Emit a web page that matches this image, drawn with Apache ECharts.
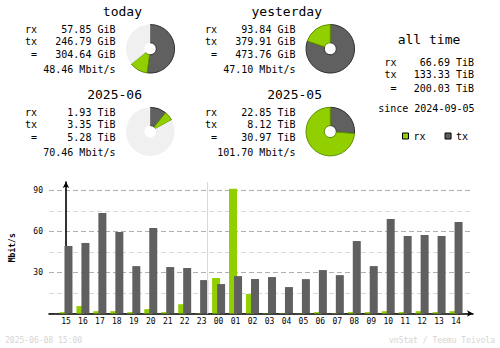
<!DOCTYPE html>
<html>
<head>
<meta charset="utf-8">
<script src="https://cdn.jsdelivr.net/npm/echarts@6/dist/echarts.min.js"></script>
<style>
html,body{margin:0;padding:0;background:#fff;}
#chart{width:500px;height:348px;}
</style>
</head>
<body>
<div id="chart"></div>
<script>
// ---- data ----
var hours = ['15','16','17','18','19','20','21','22','23','00','01','02','03','04','05','06','07','08','09','10','11','12','13','14'];
var rxRate = [1, 5.4, 1.7, 1.7, 1, 3.2, 1, 6.8, 0.2, 25.9, 91, 14.2, 0.2, 0.2, 0.2, 1, 0.2, 1, 1, 1.7, 1, 1.7, 1, 1.7];
var txRate = [49.3, 51.5, 73.4, 59.5, 34.6, 62.4, 33.9, 33.2, 24.4, 21.5, 27.3, 25.1, 26.6, 19.3, 25.1, 31.7, 28.0, 52.9, 34.6, 69.0, 56.6, 57.3, 56.6, 66.8];
var yTicks = [30, 60, 90];

var periods = ['today', 'yesterday', '2025-06', '2025-05'];
var periodRx = [57.85, 93.84, 1.93, 22.85];
var periodTx = [246.79, 379.91, 3.35, 8.12];
var periodTotal = [304.64, 473.76, 5.28, 30.97];
var periodUnit = ['GiB', 'GiB', 'TiB', 'TiB'];
var periodRate = ['48.46', '47.10', '70.46', '101.70'];
var pieScale = [473.76, 473.76, 30.97, 30.97];

var allRx = '66.69 TiB';
var allTx = '133.33 TiB';
var allTotal = '200.03 TiB';
var sinceDate = '2024-09-05';
var stampText = '2025-06-08 15:00';
var creditText = 'vnStat / Teemu Toivola';

// ---- styles ----
var RX = '#92cf00', TX = '#606060';
var MONO = '"DejaVu Sans Mono", monospace';

function txt(s, x, y, size, align, color, weight) {
  return {
    type: 'text', silent: true,
    style: {
      text: s, x: x, y: y,
      font: (weight || 'normal') + ' ' + size + 'px ' + MONO,
      fill: color || '#000',
      align: align, verticalAlign: 'middle',
      textAlign: align, textVerticalAlign: 'middle'
    }
  };
}

var graphics = [];
var blockPos = [[0, 0], [180, 0], [0, 82.8], [180, 82.8]];
var pieSeries = [];
for (var i = 0; i < 4; i++) {
  var dx = blockPos[i][0], dy = blockPos[i][1];
  graphics.push(txt(periods[i], 142 + dx, 11.5 + dy, 13, 'right'));
  graphics.push(txt('rx', 37 + dx, 29.3 + dy, 10, 'right'));
  graphics.push(txt('tx', 37 + dx, 41.4 + dy, 10, 'right'));
  graphics.push(txt('=', 37 + dx, 54.9 + dy, 10, 'right'));
  graphics.push(txt(periodRx[i].toFixed(2) + ' ' + periodUnit[i], 115.5 + dx, 29.3 + dy, 10, 'right'));
  graphics.push(txt(periodTx[i].toFixed(2) + ' ' + periodUnit[i], 115.5 + dx, 41.4 + dy, 10, 'right'));
  graphics.push(txt(periodTotal[i].toFixed(2) + ' ' + periodUnit[i], 115.5 + dx, 54.9 + dy, 10, 'right'));
  graphics.push(txt(periodRate[i] + ' Mbit/s', 115.5 + dx, 69.2 + dy, 10, 'right'));

  var rest = pieScale[i] - periodTotal[i];
  var pdata = [
    { value: periodTx[i], itemStyle: { color: TX, borderColor: '#303030', borderWidth: 1 } },
    { value: periodRx[i], itemStyle: { color: RX, borderColor: '#5f8f00', borderWidth: 1 } }
  ];
  if (rest > 0) pdata.push({ value: rest, itemStyle: { color: '#f0f0f0', borderWidth: 0 } });
  pieSeries.push({
    type: 'pie', silent: true, animation: false,
    center: [150.3 + dx, 48.8 + dy], radius: [6, 24.3],
    startAngle: 90, clockwise: true,
    label: { show: false }, labelLine: { show: false },
    emphasis: { disabled: true },
    data: pdata
  });
}

graphics.push(txt('all time', 429, 39.5, 13, 'center'));
graphics.push(txt('rx', 396.5, 62.2, 10, 'right'));
graphics.push(txt('tx', 396.5, 74.1, 10, 'right'));
graphics.push(txt('=', 396.5, 88, 10, 'right'));
graphics.push(txt(allRx, 474, 62.2, 10, 'right'));
graphics.push(txt(allTx, 474, 74.1, 10, 'right'));
graphics.push(txt(allTotal, 474, 88, 10, 'right'));
graphics.push(txt('since ' + sinceDate, 474.5, 108.2, 10, 'right'));
graphics.push(txt(stampText, 5, 340, 8, 'left', '#d4d4d4'));
graphics.push(txt(creditText, 495, 340, 8, 'right', '#d4d4d4'));

var chart = echarts.init(document.getElementById('chart'), null, { renderer: 'svg' });
chart.setOption({
  animation: false,
  backgroundColor: '#fff',
  graphic: graphics,
  legend: {
    data: ['rx', 'tx'],
    left: 397, top: 126,
    icon: 'rect', itemWidth: 6, itemHeight: 6, itemGap: 19,
    selectedMode: false,
    textStyle: { fontFamily: MONO, fontSize: 10, color: '#000', padding: [0, 0, 0, 0] },
    itemStyle: { borderColor: '#000', borderWidth: 1 }
  },
  grid: { left: 48, right: 27, top: 182, bottom: 34.5, containLabel: false },
  xAxis: {
    type: 'value', min: -1, max: 24, interval: 1,
    axisLine: { show: true, lineStyle: { color: '#000', width: 1.6 }, symbol: ['none', 'arrow'], symbolSize: [5, 6] },
    axisTick: { show: false },
    splitLine: { show: false },
    axisLabel: {
      margin: 4, fontFamily: MONO, fontSize: 8, color: '#000',
      formatter: function (v) { return hours[v] !== undefined ? hours[v] : ''; }
    }
  },
  yAxis: {
    type: 'value', min: 0, max: 96, interval: 15,
    name: 'Mbit/s', nameLocation: 'middle', nameRotate: 90, nameGap: 33,
    nameTextStyle: { fontFamily: MONO, fontSize: 8, fontWeight: 'bold', color: '#000' },
    axisLine: { show: true, lineStyle: { color: '#000', width: 1.6 }, symbol: ['none', 'arrow'], symbolSize: [5, 6] },
    axisTick: { show: false },
    axisLabel: {
      margin: 6, fontFamily: MONO, fontSize: 8, color: '#000',
      showMaxLabel: false,
      formatter: function (v) { return yTicks.indexOf(v) >= 0 ? String(v) : ''; }
    },
    splitLine: { show: true, showMaxLine: false, lineStyle: { color: ['#b0b0b0', '#d8d8d8'], type: [5, 3], width: 1 } }
  },
  series: [
    {
      name: 'rx', type: 'bar', barWidth: 8, barGap: '-37.5%',
      itemStyle: { color: RX },
      data: rxRate.map(function (v, i) { return [i, v]; }),
      markLine: {
        silent: true, symbol: ['none', 'none'], label: { show: false },
        lineStyle: { color: '#d8d8d8', type: 'solid', width: 1 },
        data: [{ xAxis: 8.5 }]
      }
    },
    {
      name: 'tx', type: 'bar', barWidth: 8, barGap: '-37.5%',
      itemStyle: { color: TX },
      data: txRate.map(function (v, i) { return [i, v]; })
    }
  ].concat(pieSeries)
});
</script>
</body>
</html>
